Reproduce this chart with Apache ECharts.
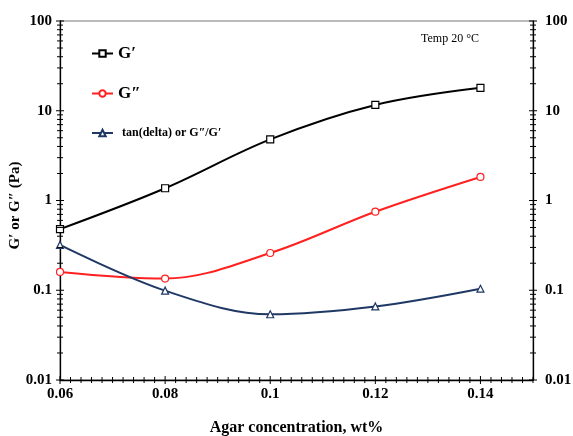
<!DOCTYPE html>
<html>
<head>
<meta charset="utf-8">
<script src="https://cdn.jsdelivr.net/npm/echarts@6/dist/echarts.min.js"></script>
<style>
html,body{margin:0;padding:0;background:#fff;}
#chart{width:573px;height:436px;}
</style>
</head>
<body>
<div id="chart"></div>
<script>
// ---- data ----
var concentrations = [0.06, 0.08, 0.10, 0.12, 0.14];
var gPrime = [0.48, 1.37, 4.8, 11.6, 18];
var gDoublePrime = [0.16, 0.135, 0.26, 0.75, 1.83];
var tanDelta = [0.32, 0.099, 0.054, 0.066, 0.104];
var seriesNames = ['G\u2032', 'G\u2033', 'tan(delta) or G\u2033/G\u2032'];
var xMin = 0.06, xMax = 0.15, xStep = 0.02, xMinorStep = 0.002;
var yMin = 0.01, yMax = 100;

var FONT = '"Liberation Serif", "Times New Roman", serif';

function pairs(xs, ys) { return xs.map(function (x, i) { return [x, ys[i]]; }); }

// tick marks (drawn through the axes' scales)
var tickData = [];
var nX = Math.round((xMax - xMin) / xMinorStep);
for (var i = 0; i <= nX; i++) {
  var xv = +(xMin + i * xMinorStep).toFixed(4);
  tickData.push([xv, yMin, 'x', (i % 10 === 0) ? 1 : 0]);
}
for (var e = -2; e <= 2; e++) {
  for (var k = 1; k <= 9; k++) {
    var yv = k * Math.pow(10, e);
    if (yv > yMax * 1.0001) break;
    tickData.push([xMin, yv, 'l', k === 1 ? 1 : 0]);
    tickData.push([xMax, yv, 'r', k === 1 ? 1 : 0]);
  }
}

function fmtNum(v) { return String(+(+v).toPrecision(6)); }

function makeLegend(name, top, big) {
  return {
    data: [name],
    orient: 'vertical',
    left: 91,
    top: top,
    padding: 0,
    itemWidth: 21,
    itemHeight: 8,
    textStyle: big
      ? {fontFamily: FONT, fontSize: 17, fontWeight: 'bold', color: '#000'}
      : {fontFamily: FONT, fontSize: 12, fontWeight: 'bold', color: '#000', padding: [0, 0, 0, 4]}
  };
}

var chart = echarts.init(document.getElementById('chart'), null, {renderer: 'canvas'});
var option = {
  backgroundColor: '#fff',
  animation: false,
  textStyle: {fontFamily: FONT},
  grid: {left: 60, right: 40, top: 21, bottom: 56, containLabel: false, outerBoundsMode: 'none',
         show: true, borderColor: '#777', borderWidth: 1, backgroundColor: 'transparent'},
  legend: [
    makeLegend(seriesNames[0], 45, true),
    makeLegend(seriesNames[1], 85, true),
    makeLegend(seriesNames[2], 127, false)
  ],
  xAxis: {
    type: 'value',
    min: xMin, max: xMax, interval: xStep,
    name: 'Agar concentration, wt%',
    nameLocation: 'middle',
    nameGap: 40,
    nameMoveOverlap: false,
    nameTextStyle: {fontFamily: FONT, fontSize: 16, fontWeight: 'bold', color: '#000'},
    axisLine: {show: true, onZero: false, lineStyle: {color: '#000', width: 1.3}},
    axisTick: {show: false},
    splitLine: {show: false},
    axisLabel: {
      margin: 7, showMaxLabel: false,
      fontFamily: FONT, fontSize: 15, fontWeight: 'bold', color: '#000',
      formatter: function (v) { return String(+(+v).toFixed(3)); }
    }
  },
  yAxis: [{
    type: 'log', logBase: 10, min: yMin, max: yMax,
    position: 'left',
    name: 'G\u2032 or G\u2033 (Pa)',
    nameLocation: 'middle',
    nameGap: 37,
    nameMoveOverlap: false,
    nameTextStyle: {fontFamily: FONT, fontSize: 15, fontWeight: 'bold', color: '#000', padding: [0, 0, 0, -10]},
    axisLine: {show: true, onZero: false, lineStyle: {color: '#000', width: 1.3}},
    axisTick: {show: false},
    splitLine: {show: false},
    axisLabel: {margin: 8, fontFamily: FONT, fontSize: 15, fontWeight: 'bold', color: '#000', formatter: fmtNum}
  }, {
    type: 'log', logBase: 10, min: yMin, max: yMax,
    position: 'right',
    axisLine: {show: true, onZero: false, lineStyle: {color: '#000', width: 1.3}},
    axisTick: {show: false},
    splitLine: {show: false},
    axisLabel: {margin: 12, fontFamily: FONT, fontSize: 15, fontWeight: 'bold', color: '#000', formatter: fmtNum}
  }],
  graphic: [{
    type: 'text', left: 421, top: 33,
    style: {text: 'Temp 20 \u00B0C', font: '12px ' + FONT, fill: '#000'}
  }],
  series: [{
    name: seriesNames[0], type: 'line', data: pairs(concentrations, gPrime),
    smooth: 0.35, symbol: 'rect', symbolSize: 7,
    lineStyle: {color: '#000', width: 2},
    itemStyle: {color: '#fff', borderColor: '#000', borderWidth: 1.2},
    z: 5
  }, {
    name: seriesNames[1], type: 'line', data: pairs(concentrations, gDoublePrime),
    smooth: 0.35, symbol: 'circle', symbolSize: 7,
    lineStyle: {color: '#ff2020', width: 2},
    itemStyle: {color: '#fff', borderColor: '#ff2020', borderWidth: 1.2},
    z: 4
  }, {
    name: seriesNames[2], type: 'line', data: pairs(concentrations, tanDelta),
    smooth: 0.35, symbol: 'triangle', symbolSize: 7,
    lineStyle: {color: '#1f3864', width: 2},
    itemStyle: {color: '#fff', borderColor: '#1f3864', borderWidth: 1.2},
    z: 4
  }, {
    name: 'ticks', type: 'custom', data: tickData, clip: false, silent: true, z: 10,
    renderItem: function (params, api) {
      var p = api.coord([api.value(0), api.value(1)]);
      var kind = tickData[params.dataIndex][2];
      var major = tickData[params.dataIndex][3];
      var len = major ? 4 : 3;
      var shape;
      if (kind === 'x') shape = {x1: p[0], y1: p[1] - len, x2: p[0], y2: p[1] + len};
      else shape = {x1: p[0] - len, y1: p[1], x2: p[0] + len, y2: p[1]};
      return {type: 'line', shape: shape, style: {stroke: '#000', lineWidth: 1}};
    }
  }]
};
chart.setOption(option);
</script>
</body>
</html>
